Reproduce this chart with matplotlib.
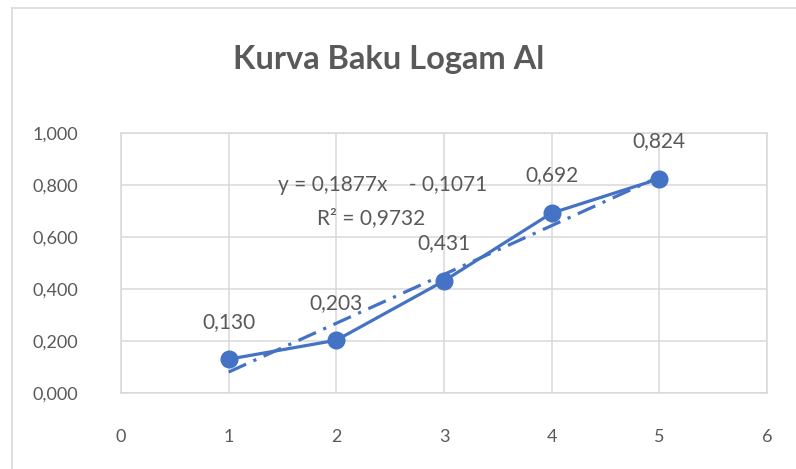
import matplotlib.pyplot as plt
from matplotlib.ticker import FuncFormatter, MultipleLocator
from matplotlib.lines import Line2D
import numpy as np

plt.rcParams['font.family'] = ['Lato', 'DejaVu Sans']

konsentrasi = [1, 2, 3, 4, 5]
absorbansi = [0.130, 0.203, 0.431, 0.692, 0.824]
slope = 0.1877
intercept = -0.1071
r2 = 0.9732

BLUE = '#4472C4'
GRID = '#D9D9D9'
TXT = '#595959'

fig = plt.figure(figsize=(7.96, 4.69), dpi=100)
ax = fig.add_axes([121 / 796, 1 - 393 / 469, (767 - 121) / 796, (393 - 133) / 469])

# data series
ax.plot(konsentrasi, absorbansi, '-o', color=BLUE, lw=2.3, ms=12, zorder=4)

# linear trendline
xt = np.array([konsentrasi[0], konsentrasi[-1]])
ax.plot(xt, slope * xt + intercept, color=BLUE, lw=2.3,
        dashes=(6, 2.5, 1, 2.5), zorder=3)

for x, y in zip(konsentrasi, absorbansi):
    ax.annotate(f"{y:.3f}".replace('.', ','), (x, y), xytext=(0, 27),
                textcoords='offset points', ha='center', va='center',
                fontsize=15, color=TXT)

ax.text(2.43, 0.80, "y = 0,1877x    - 0,1071", ha='center', va='center',
        fontsize=15, color=TXT)
ax.text(2.32, 0.672, "R\u00b2 = 0,9732", ha='center', va='center',
        fontsize=15, color=TXT)

ax.set_xlim(0, 6)
ax.set_ylim(0, 1.0)
ax.xaxis.set_major_locator(MultipleLocator(1))
ax.yaxis.set_major_locator(MultipleLocator(0.2))
ax.yaxis.set_major_formatter(FuncFormatter(lambda v, p: f"{v:.3f}".replace('.', ',')))
ax.grid(True, color=GRID, lw=1.1)
ax.set_axisbelow(True)
for s in ax.spines.values():
    s.set_color(GRID)
    s.set_linewidth(1.1)
ax.tick_params(length=0, labelsize=13, labelcolor=TXT)
ax.tick_params(axis='y', pad=31)
ax.tick_params(axis='x', pad=26)

fig.text(389 / 796, 1 - 60 / 469, "Kurva Baku Logam Al", ha='center', va='center',
         fontsize=23.5, color=TXT, fontweight='bold')

# chart frame (left and top edges visible)
fig.add_artist(Line2D([12 / 796, 12 / 796], [0, 1 - 8 / 469], transform=fig.transFigure,
                      color=GRID, lw=1.2))
fig.add_artist(Line2D([12 / 796, 1], [1 - 8 / 469, 1 - 8 / 469], transform=fig.transFigure,
                      color=GRID, lw=1.2))

fig.savefig('out.png', dpi=100)
